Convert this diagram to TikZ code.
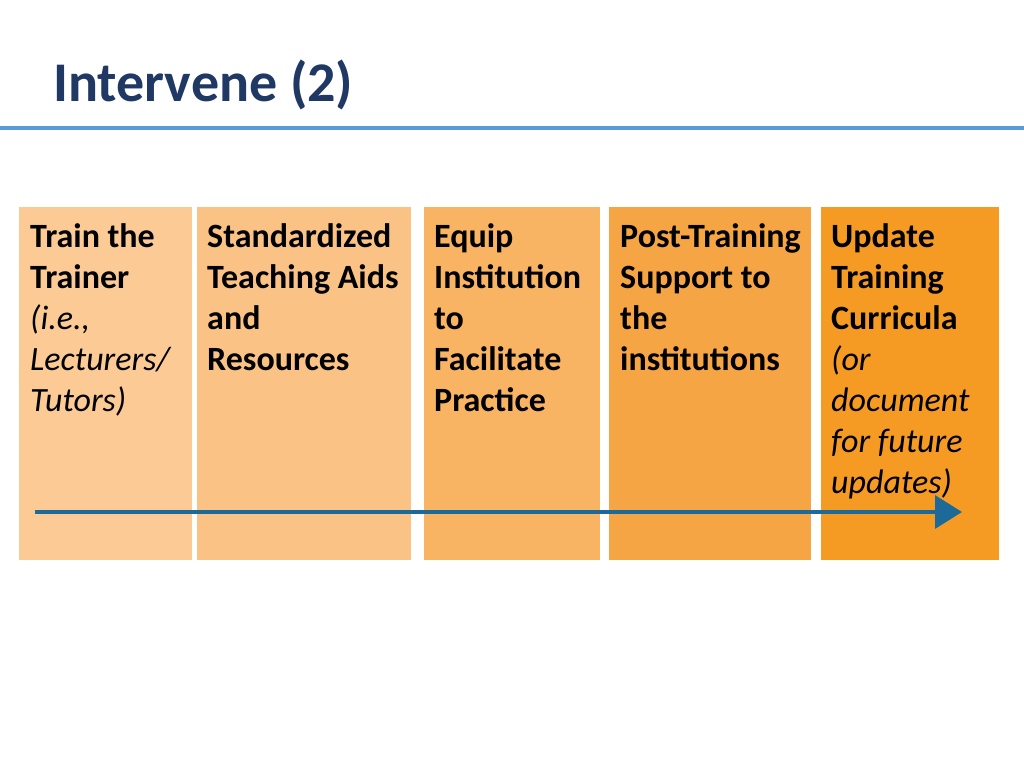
\documentclass[tikz,border=0pt]{standalone}
\usepackage{fontspec}
\setmainfont{Carlito}
\usetikzlibrary{arrows.meta}
\definecolor{titleblue}{HTML}{203864}
\definecolor{ruleblue}{HTML}{5B9BD5}
\definecolor{arrowblue}{HTML}{1B6A9A}
\definecolor{cA}{HTML}{FBCA95}
\definecolor{cB}{HTML}{FAC285}
\definecolor{cC}{HTML}{F8B363}
\definecolor{cD}{HTML}{F6A544}
\definecolor{cE}{HTML}{F59B23}
\tikzset{
  stagebox/.style={draw=none, inner sep=0pt, anchor=north west, minimum height=353pt},
  stagetext/.style={inner sep=0pt, anchor=north west, align=flush left, text width=#1,
    font=\fontsize{34}{41}\selectfont\bfseries, text=black},
}
\begin{document}
\begin{tikzpicture}[x=1pt,y=-1pt]
\useasboundingbox[fill=white] (0,0) rectangle (1024,768);
\node[anchor=base west, inner sep=0pt, text=titleblue,
  font=\fontsize{56}{67}\selectfont\bfseries] (title) at (53,101) {Intervene (2)};
\coordinate (rl) at (0,128);
\coordinate (rr) at (1024,128);
\draw[ruleblue, line width=4pt] (rl) -- (rr);

\node[stagebox, fill=cA, minimum width=173pt] (b1) at (19,207) {};
\node[stagebox, fill=cB, minimum width=214pt] (b2) at (197,207) {};
\node[stagebox, fill=cC, minimum width=176pt] (b3) at (424,207) {};
\node[stagebox, fill=cD, minimum width=202pt] (b4) at (609,207) {};
\node[stagebox, fill=cE, minimum width=178pt] (b5) at (821,207) {};

\node[stagetext=160pt] (t1) at ([shift={(11,16)}]b1.north west)
  {Train the\\Trainer\\\normalfont\itshape(i.e.,\\\normalfont\itshape Lecturers/\\\normalfont\itshape Tutors)};
\node[stagetext=205pt] (t2) at ([shift={(10,16)}]b2.north west)
  {Standardized\\Teaching Aids\\and\\Resources};
\node[stagetext=170pt] (t3) at ([shift={(10,16)}]b3.north west)
  {Equip\\Institution\\to\\Facilitate\\Practice};
\node[stagetext=195pt] (t4) at ([shift={(11,16)}]b4.north west)
  {Post-Training\\Support to\\the\\institutions};
\node[stagetext=170pt] (t5) at ([shift={(10,16)}]b5.north west)
  {Update\\Training\\Curricula\\\normalfont\itshape(or\\\normalfont\itshape document\\\normalfont\itshape for future\\\normalfont\itshape updates)};

\coordinate (as) at (35,512);
\coordinate (ae) at (962,512);
\draw[arrowblue, line width=3.5pt, -{Triangle[length=27pt,width=33pt]}] (as) -- (ae);
\end{tikzpicture}
\end{document}
